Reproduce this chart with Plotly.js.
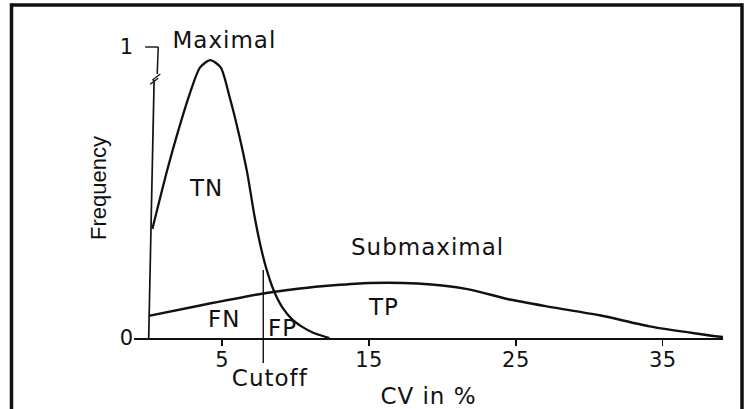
<!DOCTYPE html>
<html>
<head>
<meta charset="utf-8">
<script src="https://cdn.plot.ly/plotly-3.0.1.min.js"></script>
<style>
  html, body { margin: 0; padding: 0; background: #ffffff; }
  #chart .annotation-text, #chart .xtitle { letter-spacing: 1px; }
  #chart .xtick text { letter-spacing: 0.5px; }
</style>
</head>
<body>
<div id="chart" style="width:747px;height:409px;"></div>
<script>
// Frequency distributions of the coefficient of variation (CV, %)
const maximalCV   = [0.25, 1.25, 2.0, 2.8, 3.5, 4.2, 4.9, 5.5, 6.1, 6.7, 7.2, 7.6, 8.0, 8.5, 9.1, 9.8, 10.4, 11.2, 12.3];
const maximalFreq = [0.375, 0.575, 0.71, 0.84, 0.93, 0.955, 0.93, 0.83, 0.71, 0.57, 0.42, 0.32, 0.24, 0.165, 0.105, 0.062, 0.04, 0.018, 0.0];

const submaximalCV   = [0, 3.5, 7.8, 10.3, 12.6, 15.0, 18.3, 21.7, 24.5, 27.3, 30.7, 34.1, 37.5, 39.1];
const submaximalFreq = [0.076, 0.112, 0.153, 0.170, 0.181, 0.189, 0.187, 0.168, 0.133, 0.107, 0.078, 0.040, 0.014, 0.003];

const cutoffCV = 7.8;

const xTickVals = [5, 15, 25, 35];
const yTickVals = [0, 1];
const yTickText = ['0', '1'];

const INK = '#111111';
const WIDE = 'DejaVu Sans, Liberation Sans, sans-serif';
const NARROW = 'Liberation Sans, Arial, sans-serif';

const curve = (x, y, name, w) => ({
  type: 'scatter', mode: 'lines', name: name, x: x, y: y,
  line: {color: INK, width: w, shape: 'spline', smoothing: 0.7},
  hoverinfo: 'skip', showlegend: false
});

const traces = [
  curve(maximalCV, maximalFreq, 'Maximal', 2.3),
  curve(submaximalCV, submaximalFreq, 'Submaximal', 2.5)
];

const seg = (x0, y0, x1, y1, w, xref, yref) => ({
  type: 'line', xref: xref || 'x', yref: yref || 'y',
  x0: x0, y0: y0, x1: x1, y1: y1,
  line: {color: INK, width: w}
});

// plot-area mapping helpers for the surrounding frame (paper units)
const px = v => (v - 134) / 589;
const py = v => (338 - v) / 300;

const shapes = [
  // broken frequency axis
  seg(0, 0, 0.37, 0.887, 1.7),
  seg(0.58, 0.907, 0.65, 1.0, 1.5),
  seg(-0.24, 1.0, 0.65, 1.0, 1.4),
  seg(0.10, 0.872, 0.65, 0.893, 1.3),
  seg(0.24, 0.886, 0.79, 0.907, 1.3),
  // cutoff marker
  seg(cutoffCV, py(363), cutoffCV, py(270), 1.4, 'x', 'paper'),
  // frame
  seg(px(11.5), py(5), px(742), py(5), 3.5, 'paper', 'paper'),
  seg(px(11.5), py(3.3), px(11.5), py(420), 3.5, 'paper', 'paper'),
  seg(px(742), py(3.3), px(742), py(420), 3.5, 'paper', 'paper')
];

const label = (text, x, y, yref) => ({
  text: text, x: x, y: y, xref: 'x', yref: yref || 'y',
  showarrow: false, xanchor: 'center', yanchor: 'middle',
  font: {family: WIDE, size: 23, color: INK}
});

const annotations = [
  label('Maximal', 5.19, 1.024),
  label('TN', 3.9, 0.515),
  label('Submaximal', 18.98, 0.313),
  label('TP', 16.0, 0.108),
  label('FN', 5.13, 0.064),
  label('FP', 9.14, 0.036),
  label('Cutoff', 8.26, py(378), 'paper')
];

const layout = {
  width: 747, height: 409,
  margin: {l: 134, r: 24, t: 38, b: 71, pad: 0},
  paper_bgcolor: '#ffffff', plot_bgcolor: '#ffffff',
  showlegend: false,
  xaxis: {
    range: [-1, 39.1], showgrid: false, zeroline: false,
    showline: true, linecolor: INK, linewidth: 1.7,
    ticks: 'outside', ticklen: 6, tickwidth: 1.4, tickcolor: INK,
    tickvals: xTickVals,
    tickfont: {family: WIDE, size: 21, color: INK},
    ticklabelstandoff: -4,
    title: {text: 'CV in %', font: {family: WIDE, size: 23, color: INK}, standoff: 18},
    fixedrange: true
  },
  yaxis: {
    range: [0, 1.031], showgrid: false, zeroline: false, showline: false,
    ticks: '', tickvals: yTickVals, ticktext: yTickText,
    tickfont: {family: WIDE, size: 21, color: INK},
    title: {text: 'Frequency', font: {family: NARROW, size: 22, color: INK}, standoff: 6},
    fixedrange: true
  },
  shapes: shapes,
  annotations: annotations
};

Plotly.newPlot('chart', traces, layout, {displayModeBar: false, staticPlot: true});
</script>
</body>
</html>
